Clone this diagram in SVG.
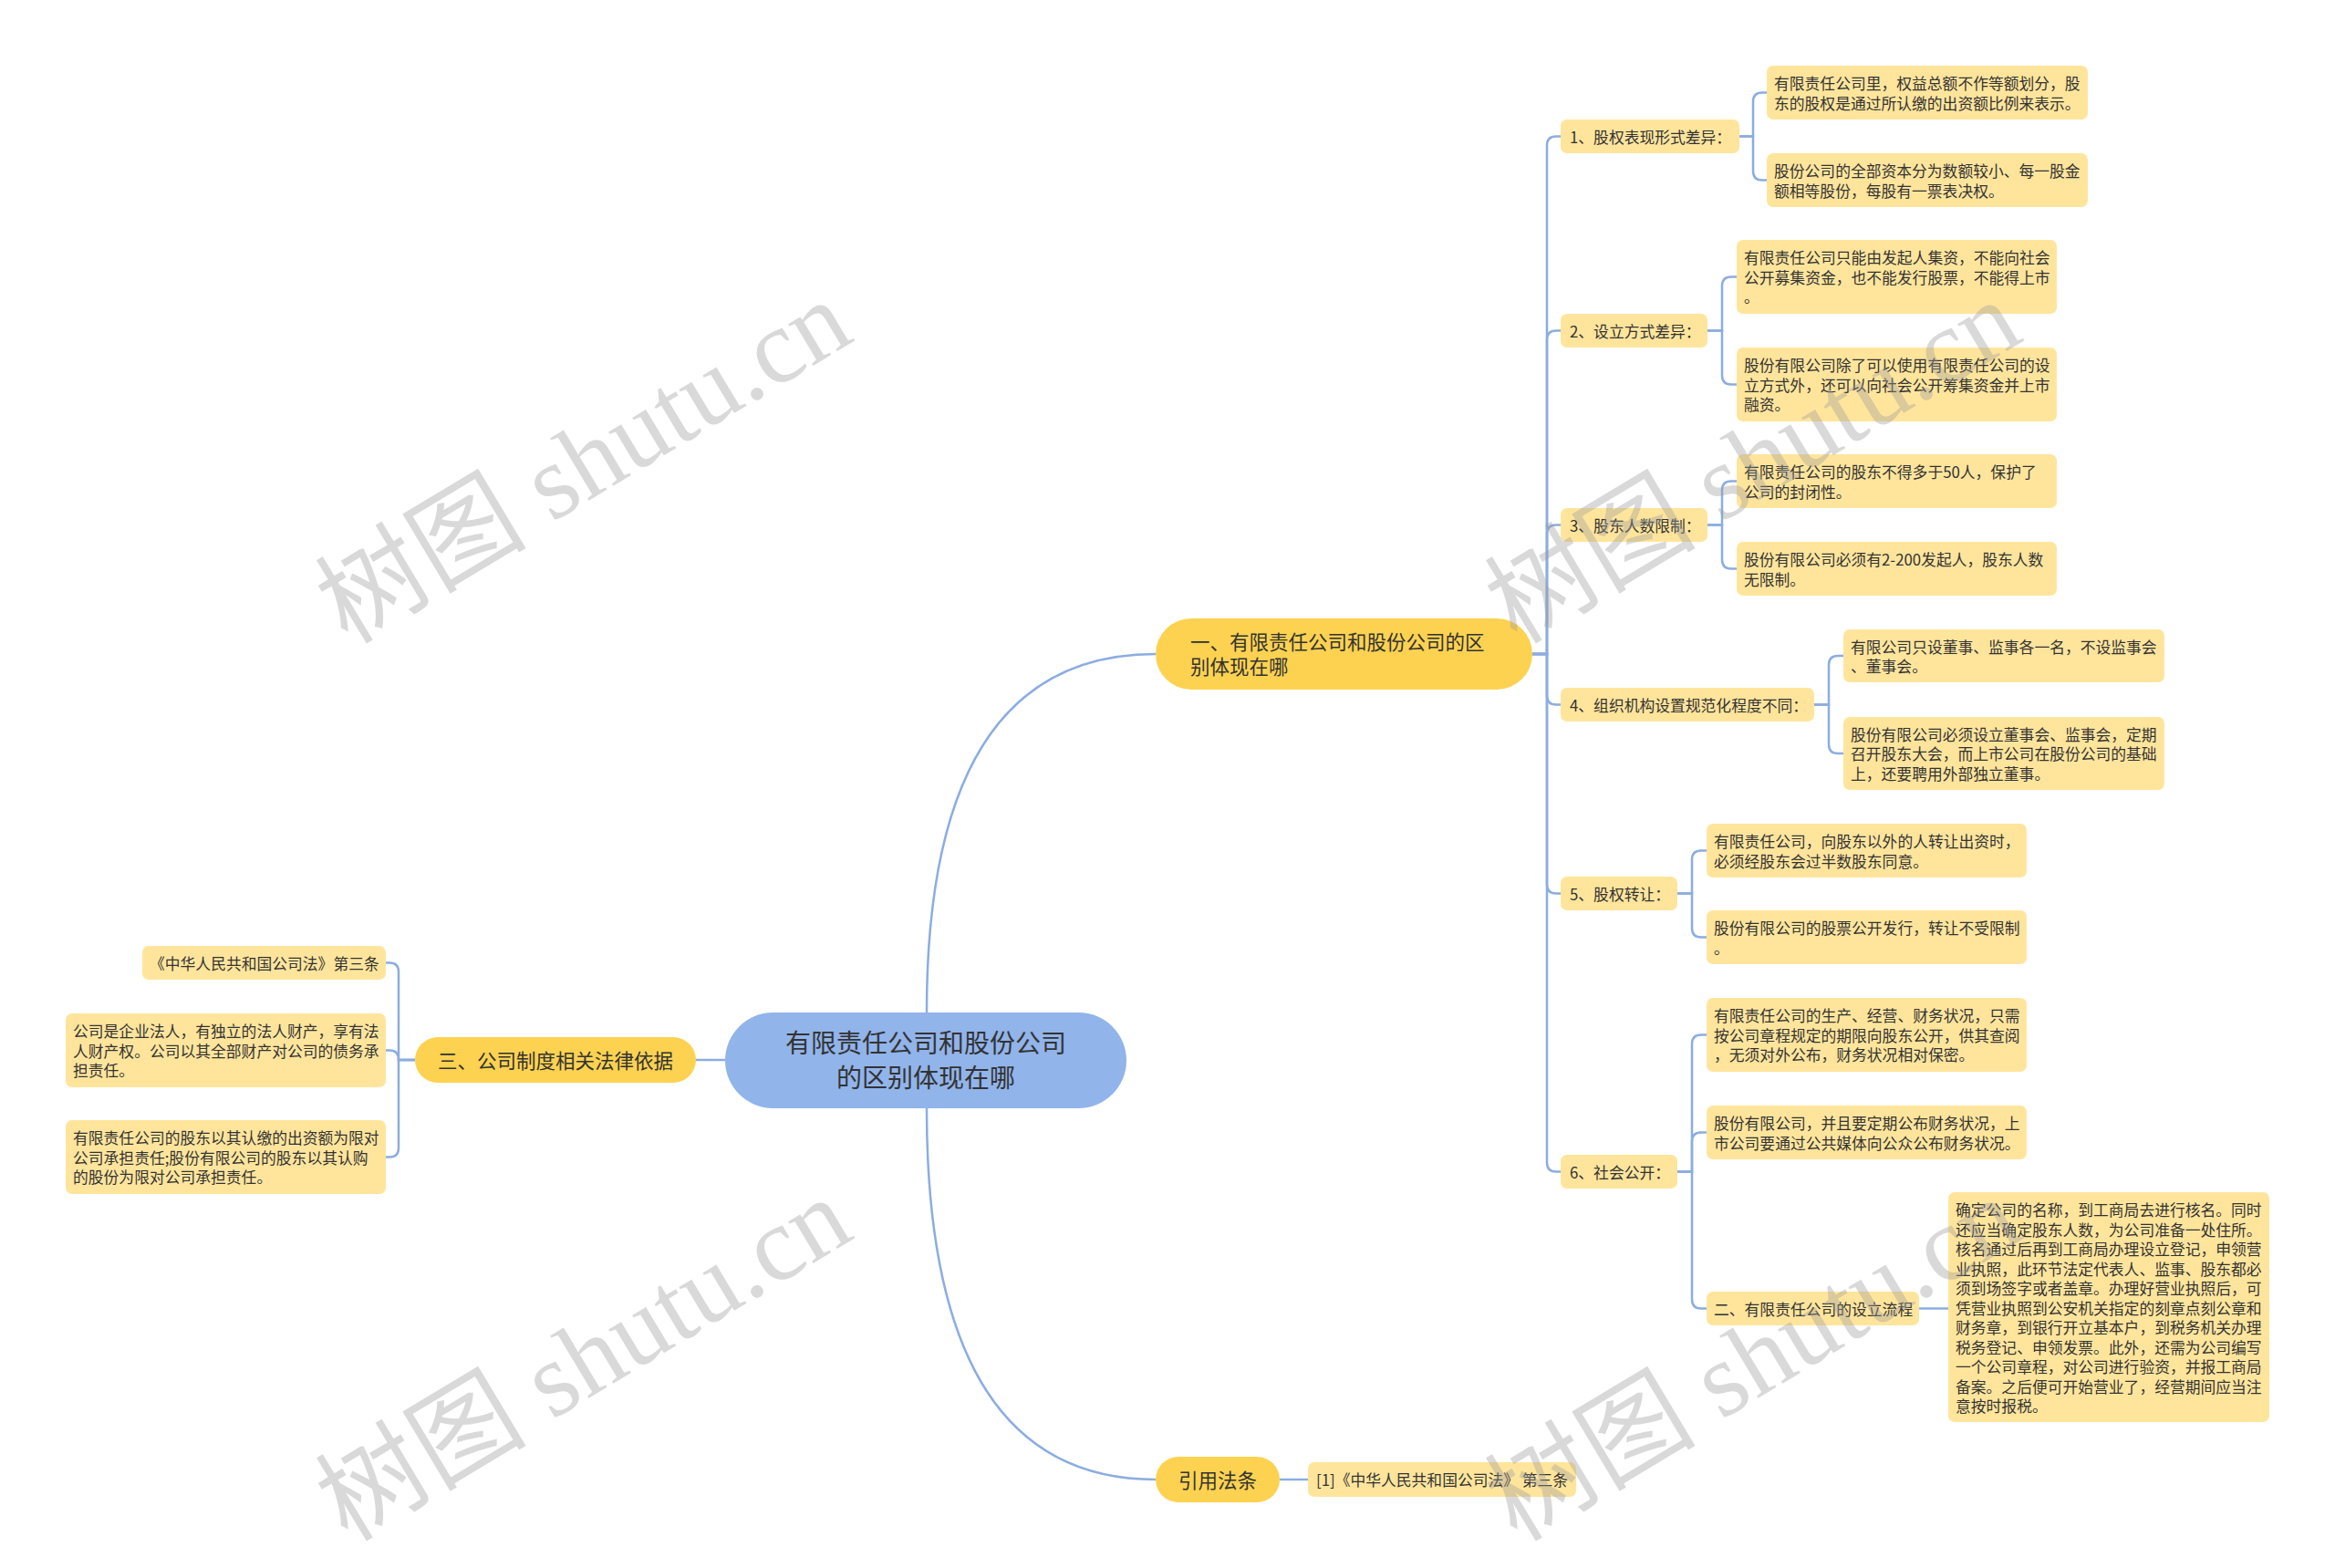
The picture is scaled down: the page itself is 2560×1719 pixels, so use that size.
<svg xmlns="http://www.w3.org/2000/svg" width="2560" height="1719" viewBox="0 0 2560 1719">
<style>
text{font-family:"Noto Sans CJK SC","Noto Sans",sans-serif;fill:#333;dominant-baseline:central}
.leaf rect{fill:#FFE59C}
.leaf text{font-size:16.8px}
.main rect{fill:#FDD250}
.main text{font-size:21.5px}
.center rect{fill:#91B4EA}
.center text{font-size:28px;text-anchor:middle}
.mid{text-anchor:middle}
#connectors path{fill:none;stroke:#8CADE0;stroke-width:2.5}
.wm{font-family:"Liberation Serif","Noto Sans CJK SC",serif;font-size:116px;fill:#9a9a9a;fill-opacity:0.38;dominant-baseline:alphabetic;text-anchor:middle}
</style>
<rect width="2560" height="1719" fill="#fff"/>
<g id="connectors">
<path d="M1016,1110 Q1016,717 1267,717"/>
<path d="M1016,1215 Q1016,1622 1267,1622"/>
<path d="M795,1162 H763"/>
<path d="M1403,1622 H1434"/>
<path d="M1680,717 H1696 V159.5 Q1696,149.5 1706,149.5 H1711"/>
<path d="M1680,717 H1696 V372.5 Q1696,362.5 1706,362.5 H1711"/>
<path d="M1680,717 H1696 V585.5 Q1696,575.5 1706,575.5 H1711"/>
<path d="M1680,717 H1696 V762.5 Q1696,772.5 1706,772.5 H1711"/>
<path d="M1680,717 H1696 V969.5 Q1696,979.5 1706,979.5 H1711"/>
<path d="M1680,717 H1696 V1274.5 Q1696,1284.5 1706,1284.5 H1711"/>
<path d="M1907,149.5 H1922 V111.5 Q1922,101.5 1932,101.5 H1937"/>
<path d="M1907,149.5 H1922 V187.5 Q1922,197.5 1932,197.5 H1937"/>
<path d="M1872,362.5 H1888 V313.5 Q1888,303.5 1898,303.5 H1904"/>
<path d="M1872,362.5 H1888 V411.5 Q1888,421.5 1898,421.5 H1904"/>
<path d="M1872,575.5 H1888 V537.5 Q1888,527.5 1898,527.5 H1904"/>
<path d="M1872,575.5 H1888 V613.5 Q1888,623.5 1898,623.5 H1904"/>
<path d="M1989,772.5 H2005 V729 Q2005,719 2015,719 H2021"/>
<path d="M1989,772.5 H2005 V816 Q2005,826 2015,826 H2021"/>
<path d="M1839,979.5 H1855 V942.5 Q1855,932.5 1865,932.5 H1871"/>
<path d="M1839,979.5 H1855 V1017.5 Q1855,1027.5 1865,1027.5 H1871"/>
<path d="M1839,1284.5 H1855 V1144.5 Q1855,1134.5 1865,1134.5 H1871"/>
<path d="M1839,1284.5 H1855 V1251.5 Q1855,1241.5 1865,1241.5 H1871"/>
<path d="M1839,1284.5 H1855 V1424.5 Q1855,1434.5 1865,1434.5 H1871"/>
<path d="M2104,1434.5 H2136"/>
<path d="M455,1162 H437 V1065.5 Q437,1055.5 427,1055.5 H423"/>
<path d="M455,1162 H437 V1161.5 Q437,1151.5 427,1151.5 H423"/>
<path d="M455,1162 H437 V1258.5 Q437,1268.5 427,1268.5 H423"/>
</g>

<g id="center" class="center">
<rect x="795" y="1110" width="440" height="105" rx="52.5"/>
<text x="1015" y="1142">有限责任公司和股份公司</text>
<text x="1015" y="1180">的区别体现在哪</text>
</g>

<g id="main1" class="main">
<rect x="1267" y="678" width="413" height="78" rx="39"/>
<text x="1305" y="702">一、有限责任公司和股份公司的区</text>
<text x="1305" y="729">别体现在哪</text>
</g>
<g id="main3" class="main">
<rect x="455" y="1137" width="308" height="50" rx="25"/>
<text class="mid" x="609" y="1161">三、公司制度相关法律依据</text>
</g>
<g id="main-ref" class="main">
<rect x="1267" y="1597" width="136" height="50" rx="25"/>
<text class="mid" x="1335" y="1621">引用法条</text>
</g>

<g id="ref-leaf" class="leaf">
<rect x="1434" y="1603" width="294" height="38" rx="7"/>
<text x="1443" y="1622">[1]《中华人民共和国公司法》 第三条</text>
</g>

<g id="n1" class="leaf">
<rect x="1711" y="131" width="196" height="37" rx="7"/>
<text x="1721" y="149.5">1、股权表现形式差异：</text>
</g>
<g id="n1a" class="leaf">
<rect x="1937" y="72" width="352" height="59" rx="7"/>
<text x="1945" y="91">有限责任公司里，权益总额不作等额划分，股</text>
<text x="1945" y="112.5">东的股权是通过所认缴的出资额比例来表示。</text>
</g>
<g id="n1b" class="leaf">
<rect x="1937" y="168" width="352" height="59" rx="7"/>
<text x="1945" y="187">股份公司的全部资本分为数额较小、每一股金</text>
<text x="1945" y="208.5">额相等股份，每股有一票表决权。</text>
</g>

<g id="n2" class="leaf">
<rect x="1711" y="344" width="161" height="37" rx="7"/>
<text x="1721" y="362.5">2、设立方式差异：</text>
</g>
<g id="n2a" class="leaf">
<rect x="1904" y="263" width="351" height="81" rx="7"/>
<text x="1912" y="282">有限责任公司只能由发起人集资，不能向社会</text>
<text x="1912" y="303.5">公开募集资金，也不能发行股票，不能得上市</text>
<text x="1912" y="325">。</text>
</g>
<g id="n2b" class="leaf">
<rect x="1904" y="381" width="351" height="81" rx="7"/>
<text x="1912" y="400">股份有限公司除了可以使用有限责任公司的设</text>
<text x="1912" y="421.5">立方式外，还可以向社会公开筹集资金并上市</text>
<text x="1912" y="443">融资。</text>
</g>

<g id="n3" class="leaf">
<rect x="1711" y="557" width="161" height="37" rx="7"/>
<text x="1721" y="575.5">3、股东人数限制：</text>
</g>
<g id="n3a" class="leaf">
<rect x="1904" y="498" width="351" height="59" rx="7"/>
<text x="1912" y="517">有限责任公司的股东不得多于50人，保护了</text>
<text x="1912" y="538.5">公司的封闭性。</text>
</g>
<g id="n3b" class="leaf">
<rect x="1904" y="594" width="351" height="59" rx="7"/>
<text x="1912" y="613">股份有限公司必须有2-200发起人，股东人数</text>
<text x="1912" y="634.5">无限制。</text>
</g>

<g id="n4" class="leaf">
<rect x="1711" y="754" width="278" height="37" rx="7"/>
<text x="1721" y="772.5">4、组织机构设置规范化程度不同：</text>
</g>
<g id="n4a" class="leaf">
<rect x="2021" y="690" width="352" height="58" rx="7"/>
<text x="2029" y="708.5">有限公司只设董事、监事各一名，不设监事会</text>
<text x="2029" y="730">、董事会。</text>
</g>
<g id="n4b" class="leaf">
<rect x="2021" y="786" width="352" height="80" rx="7"/>
<text x="2029" y="804.5">股份有限公司必须设立董事会、监事会，定期</text>
<text x="2029" y="826">召开股东大会，而上市公司在股份公司的基础</text>
<text x="2029" y="847.5">上，还要聘用外部独立董事。</text>
</g>

<g id="n5" class="leaf">
<rect x="1711" y="961" width="128" height="37" rx="7"/>
<text x="1721" y="979.5">5、股权转让：</text>
</g>
<g id="n5a" class="leaf">
<rect x="1871" y="903" width="351" height="59" rx="7"/>
<text x="1879" y="922">有限责任公司，向股东以外的人转让出资时，</text>
<text x="1879" y="943.5">必须经股东会过半数股东同意。</text>
</g>
<g id="n5b" class="leaf">
<rect x="1871" y="998" width="351" height="59" rx="7"/>
<text x="1879" y="1017">股份有限公司的股票公开发行，转让不受限制</text>
<text x="1879" y="1038.5">。</text>
</g>

<g id="n6" class="leaf">
<rect x="1711" y="1266" width="128" height="37" rx="7"/>
<text x="1721" y="1284.5">6、社会公开：</text>
</g>
<g id="n6a" class="leaf">
<rect x="1871" y="1094" width="351" height="81" rx="7"/>
<text x="1879" y="1113">有限责任公司的生产、经营、财务状况，只需</text>
<text x="1879" y="1134.5">按公司章程规定的期限向股东公开，供其查阅</text>
<text x="1879" y="1156">，无须对外公布，财务状况相对保密。</text>
</g>
<g id="n6b" class="leaf">
<rect x="1871" y="1212" width="351" height="59" rx="7"/>
<text x="1879" y="1231">股份有限公司，并且要定期公布财务状况，上</text>
<text x="1879" y="1252.5">市公司要通过公共媒体向公众公布财务状况。</text>
</g>
<g id="n7" class="leaf">
<rect x="1871" y="1416" width="233" height="37" rx="7"/>
<text x="1879" y="1434.5">二、有限责任公司的设立流程</text>
</g>
<g id="n7a" class="leaf">
<rect x="2136" y="1307" width="352" height="252" rx="7"/>
<text x="2144" y="1326">确定公司的名称，到工商局去进行核名。同时</text>
<text x="2144" y="1347.5">还应当确定股东人数，为公司准备一处住所。</text>
<text x="2144" y="1369">核名通过后再到工商局办理设立登记，申领营</text>
<text x="2144" y="1390.5">业执照，此环节法定代表人、监事、股东都必</text>
<text x="2144" y="1412">须到场签字或者盖章。办理好营业执照后，可</text>
<text x="2144" y="1433.5">凭营业执照到公安机关指定的刻章点刻公章和</text>
<text x="2144" y="1455">财务章，到银行开立基本户，到税务机关办理</text>
<text x="2144" y="1476.5">税务登记、申领发票。此外，还需为公司编写</text>
<text x="2144" y="1498">一个公司章程，对公司进行验资，并报工商局</text>
<text x="2144" y="1519.5">备案。之后便可开始营业了，经营期间应当注</text>
<text x="2144" y="1541">意按时报税。</text>
</g>

<g id="l1" class="leaf">
<rect x="156" y="1037" width="267" height="37" rx="7"/>
<text x="164" y="1055.5">《中华人民共和国公司法》第三条</text>
</g>
<g id="l2" class="leaf">
<rect x="72" y="1111" width="351" height="81" rx="7"/>
<text x="80" y="1130">公司是企业法人，有独立的法人财产，享有法</text>
<text x="80" y="1151.5">人财产权。公司以其全部财产对公司的债务承</text>
<text x="80" y="1173">担责任。</text>
</g>
<g id="l3" class="leaf">
<rect x="72" y="1228" width="351" height="81" rx="7"/>
<text x="80" y="1247">有限责任公司的股东以其认缴的出资额为限对</text>
<text x="80" y="1268.5">公司承担责任;股份有限公司的股东以其认购</text>
<text x="80" y="1290">的股份为限对公司承担责任。</text>
</g>

<g id="watermarks">
<text class="wm" transform="translate(660,540) rotate(-31)">树图 shutu.cn</text>
<text class="wm" transform="translate(1942,540) rotate(-31)">树图 shutu.cn</text>
<text class="wm" transform="translate(660,1524) rotate(-31)">树图 shutu.cn</text>
<text class="wm" transform="translate(1942,1524) rotate(-31)">树图 shutu.cn</text>
</g>
</svg>
